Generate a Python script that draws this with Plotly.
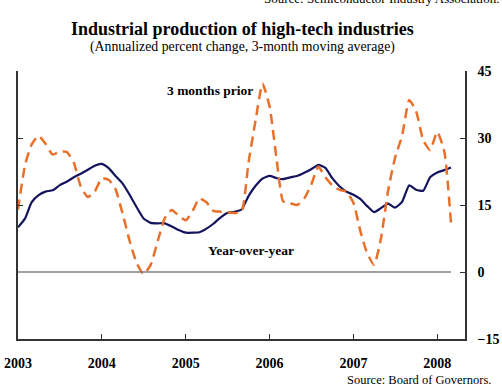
import pandas as pd
import plotly.graph_objects as go

# Monthly data, Jan 2003 - Mar 2008
months = pd.date_range("2003-01-01", periods=63, freq="MS")

year_over_year = [
    10.0, 12.0, 15.6, 17.2, 18.0, 18.3, 19.4, 20.2, 21.2, 22.0, 22.9, 23.8,
    24.2, 23.2, 21.5, 19.8, 17.3, 14.5, 12.0, 11.0, 10.9, 10.9, 10.2, 9.4,
    8.8, 8.8, 8.9, 9.7, 10.8, 12.2, 13.2, 13.5, 14.0, 17.0, 19.3, 20.9,
    21.5, 21.0, 20.8, 21.2, 21.5, 22.2, 23.0, 24.0, 23.3, 21.0, 19.2, 18.0,
    17.3, 16.3, 14.8, 13.4, 14.3, 15.3, 14.4, 15.7, 19.4, 18.4, 18.2, 21.2,
    22.3, 22.8, 23.4,
]

three_months_prior = [
    14.0, 24.0, 28.5, 30.5, 28.7, 26.3, 26.9, 26.9, 24.5, 19.2, 16.8, 18.0,
    21.0, 20.6, 18.5, 13.0, 7.0, 2.0, -0.5, 1.6, 7.0, 12.0, 13.9, 12.6,
    11.6, 13.8, 16.5, 15.6, 13.7, 13.5, 13.3, 13.2, 13.5, 24.5, 34.0, 42.2,
    37.0, 25.0, 15.8, 15.4, 15.0, 16.5, 19.5, 23.6, 21.2, 19.4, 18.4, 18.0,
    15.5, 9.0, 4.3, 1.6, 7.5, 18.2, 25.5, 30.5, 38.5, 36.0, 29.5, 27.3,
    31.4, 27.0, 10.9,
]

y_ticks = [-15, 0, 15, 30, 45]
year_ticks = ["2003", "2004", "2005", "2006", "2007", "2008"]

SERIF = "Liberation Serif"
NAVY = "#14145e"
ORANGE = "#e8702a"
AXIS = "#333333"

fig = go.Figure()

# zero line across the data span (on overlaid left axis)
fig.add_trace(go.Scatter(
    x=[months[0], months[-1]], y=[0, 0], yaxis="y2", mode="lines",
    line=dict(color="#808080", width=1.5), hoverinfo="skip", showlegend=False,
))

fig.add_trace(go.Scatter(
    x=months, y=year_over_year, mode="lines", name="Year-over-year",
    line=dict(color=NAVY, width=2.2, shape="spline", smoothing=0.5),
    showlegend=False,
))
fig.add_trace(go.Scatter(
    x=months, y=three_months_prior, mode="lines", name="3 months prior",
    line=dict(color=ORANGE, width=2.5, dash="10px,6px", shape="spline", smoothing=0.5),
    showlegend=False,
))

fig.update_layout(
    width=502, height=389,
    margin=dict(l=18, r=37, t=71, b=50),
    paper_bgcolor="white", plot_bgcolor="white",
    font=dict(family=SERIF, color="black"),
    xaxis=dict(
        range=[pd.Timestamp("2003-01-01"), pd.Timestamp("2008-05-01")],
        tickvals=[pd.Timestamp(f"{y}-01-01") for y in year_ticks],
        ticktext=year_ticks,
        ticks="inside", ticklen=5, tickcolor=AXIS,
        showline=True, linecolor=AXIS, linewidth=1.5,
        showgrid=False, zeroline=False, automargin=False,
        tickfont=dict(family=SERIF, size=14, color="black", weight="bold"),
        ticklabelstandoff=10,
    ),
    yaxis=dict(
        side="right", range=[-15, 45], tickvals=y_ticks,
        ticks="inside", ticklen=5, tickcolor=AXIS,
        showline=True, linecolor=AXIS, linewidth=1.5,
        showgrid=False, zeroline=False, automargin=False,
        tickfont=dict(family=SERIF, size=14, color="black", weight="bold"),
        ticklabelstandoff=8,
    ),
    yaxis2=dict(
        overlaying="y", side="left", range=[-15, 45], tickvals=[15, 30, 45],
        ticks="inside", ticklen=5, tickcolor=AXIS,
        showline=True, linecolor=AXIS, linewidth=1.5,
        showgrid=False, zeroline=False, showticklabels=False, automargin=False,
    ),
    annotations=[
        dict(text="<b>Industrial production of high-tech industries</b>",
             xref="paper", yref="paper", x=0.502, y=1.157, showarrow=False,
             xanchor="center", yanchor="middle",
             font=dict(family=SERIF, size=18, color="black")),
        dict(text="(Annualized percent change, 3-month moving average)",
             xref="paper", yref="paper", x=0.502, y=1.09, showarrow=False,
             xanchor="center", yanchor="middle",
             font=dict(family=SERIF, size=13.8, color="black")),
        dict(text="Source: Semiconductor Industry Association.",
             xref="paper", yref="paper", x=1.08, y=1.272, showarrow=False,
             xanchor="right", yanchor="middle",
             font=dict(family=SERIF, size=13, color="black")),
        dict(text="Source: Board of Governors.",
             xref="paper", yref="paper", x=1.063, y=-0.153, showarrow=False,
             xanchor="right", yanchor="middle",
             font=dict(family=SERIF, size=12.5, color="black")),
        dict(text="<b>3 months prior</b>",
             xref="paper", yref="paper", x=0.43, y=0.929, showarrow=False,
             xanchor="center", yanchor="middle",
             font=dict(family=SERIF, size=13.5, color="black")),
        dict(text="<b>Year-over-year</b>",
             xref="paper", yref="paper", x=0.521, y=0.332, showarrow=False,
             xanchor="center", yanchor="middle",
             font=dict(family=SERIF, size=13.5, color="black")),
    ],
)

fig.write_html(
    "out.html",
    config={"displayModeBar": False},
    post_script="document.body.style.margin='0';document.body.style.overflow='hidden';",
)
